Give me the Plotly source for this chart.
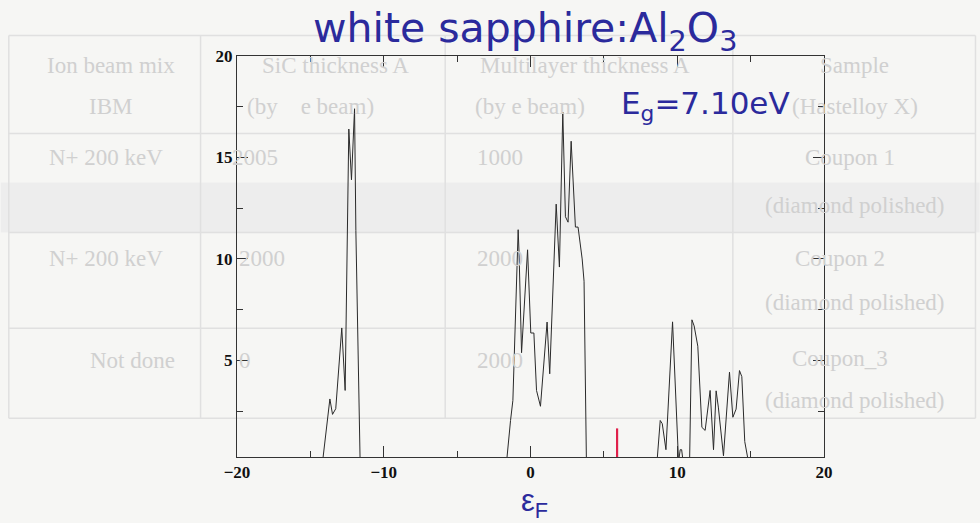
import plotly.graph_objects as go

# ---- data ----
energy = [-20, -14.6, -14.17, -13.67, -13.49, -13.27, -12.86, -12.63, -12.38, -12.2, -11.99, -11.9, -11.61, -11.2,
          -2.0, -1.63, -1.36, -1.2, -0.84, -0.78, -0.61, -0.2, 0.02, 0.23, 0.41, 0.68, 1.13, 1.31, 1.75, 1.97,
          2.2, 2.38, 2.56, 2.77, 3.06, 3.24, 3.52, 3.65, 3.81, 4.2,
          8.3, 8.62, 8.84, 8.98, 9.23, 9.68, 10.09, 10.2, 10.3, 10.4, 10.84, 11.0, 11.15, 11.4, 11.68, 11.9,
          12.24, 12.47, 12.65, 12.8, 13.15, 13.56, 13.79, 14.01, 14.24, 14.4, 14.6, 14.85, 15.2, 20]
dos = [0, 0, 0, 3.1, 2.34, 2.62, 6.6, 3.52, 16.4, 13.9, 17.4, 11.4, 0, 0,
       0, 0, 2.04, 3.03, 11.44, 10.3, 5.38, 10.45, 6.35, 6.35, 3.52, 2.74, 6.89, 4.34, 12.7, 9.6,
       17.23, 12.08, 11.81, 15.8, 11.57, 11.57, 10.0, 8.9, 0, 0,
       0, 0, 2.04, 1.88, 0.6, 6.9, 0, 0.6, 0.6, 0, 0, 7.0, 6.7, 5.7, 1.7, 1.55,
       3.52, 0.6, 3.5, 2.7, 0.3, 4.42, 2.2, 2.6, 4.5, 4.2, 1.0, 0, 0, 0]
fermi_x = [5.9, 5.9]
fermi_y = [0, 1.65]

x_ticks = [-20, -10, 0, 10, 20]
y_ticks = [5, 10, 15, 20]

# ghost table seen through the page (background)
ghost_text = [
    ("Ion beam mix", 110, 65), ("SiC thickness A", 335, 65), ("Multilayer thickness A", 585, 65), ("Sample", 855, 65),
    ("IBM", 110, 106), ("(by    e beam)", 310, 106), ("(by e beam)", 530, 106), ("(Hastelloy X)", 855, 106),
    ("N+ 200 keV", 105, 157), ("2005", 255, 157), ("1000", 500, 157), ("Coupon 1", 850, 157),
    ("(diamond polished)", 855, 205),
    ("N+ 200 keV", 105, 258), ("2000", 262, 258), ("2000", 500, 258), ("Coupon 2", 840, 258),
    ("(diamond polished)", 855, 302),
    ("Not done", 132, 360), ("0", 245, 360), ("2000", 500, 360), ("Coupon_3", 840, 358),
    ("(diamond polished)", 855, 400),
]
ghost_vlines = [8, 200, 445, 733, 976]
ghost_hlines = [35, 133, 232, 328, 418]

# ---- geometry ----
W, H = 980, 523
L, R, T, B = 236.5, 824.3, 55.5, 456.7
BLUE = "#2b2a9c"

def px2paper(px, py):
    return (px - L) / (R - L), (B - py) / (B - T)

fig = go.Figure()
fig.add_trace(go.Scatter(x=energy, y=dos, mode="lines",
                         line=dict(color="#2a2a2a", width=1), showlegend=False, hoverinfo="skip"))
fig.add_trace(go.Scatter(x=fermi_x, y=fermi_y, mode="lines",
                         line=dict(color="#e0204a", width=2.2), showlegend=False, hoverinfo="skip"))

shapes = []
x0, y0 = px2paper(0, 232)
x1, y1 = px2paper(980, 182)
shapes.append(dict(type="rect", xref="paper", yref="paper", x0=x0, x1=x1, y0=y0, y1=y1,
                   fillcolor="#ededed", line=dict(width=0), layer="below"))
for vx in ghost_vlines:
    a, b0 = px2paper(vx, ghost_hlines[0])
    _, b1 = px2paper(vx, ghost_hlines[-1])
    shapes.append(dict(type="line", xref="paper", yref="paper", x0=a, x1=a, y0=b0, y1=b1,
                       line=dict(color="#e0e0e0", width=1.5), layer="below"))
for hy in ghost_hlines:
    a0, b = px2paper(ghost_vlines[0], hy)
    a1, _ = px2paper(ghost_vlines[-1], hy)
    shapes.append(dict(type="line", xref="paper", yref="paper", x0=a0, x1=a1, y0=b, y1=b,
                       line=dict(color="#e0e0e0", width=1.5), layer="below"))

annotations = []
for txt, gx, gy in ghost_text:
    ax, ay = px2paper(gx, gy)
    annotations.append(dict(text=txt, x=ax, y=ay, xref="paper", yref="paper", showarrow=False,
                            xanchor="center", yanchor="middle",
                            font=dict(family="Liberation Serif", size=23, color="#d0d0d0")))

tx, ty = px2paper(525, 30)
annotations.append(dict(text="white sapphire:Al<sub>2</sub>O<sub>3</sub>", x=tx, y=ty, xref="paper", yref="paper",
                        showarrow=False, xanchor="center", yanchor="middle",
                        font=dict(family="DejaVu Sans", size=41, color=BLUE)))
ex, ey = px2paper(706, 105)
annotations.append(dict(text="E<sub>g</sub>=7.10eV", x=ex, y=ey, xref="paper", yref="paper",
                        showarrow=False, xanchor="center", yanchor="middle",
                        font=dict(family="DejaVu Sans", size=31, color=BLUE)))
fx, fy = px2paper(534, 503)
annotations.append(dict(text="ε<sub>F</sub>", x=fx, y=fy, xref="paper", yref="paper",
                        showarrow=False, xanchor="center", yanchor="middle",
                        font=dict(family="Liberation Sans", size=31, color=BLUE)))

tickfont = dict(family="Liberation Serif", size=17, color="#111111", weight="bold")
fig.update_layout(
    width=W, height=H,
    margin=dict(l=L, r=W - R, t=T, b=H - B, pad=0),
    paper_bgcolor="#f6f6f4", plot_bgcolor="rgba(0,0,0,0)",
    shapes=shapes, annotations=annotations,
    xaxis=dict(range=[-20, 20], tickvals=x_ticks, ticks="inside", ticklen=11, tickwidth=1,
               tickcolor="#333", showline=True, linecolor="#333", linewidth=1, mirror="ticks",
               showgrid=False, zeroline=False, tickfont=tickfont,
               minor=dict(ticks="inside", dtick=5, tick0=0, ticklen=6, tickcolor="#333", showgrid=False)),
    yaxis=dict(range=[0.24, 20], tickvals=y_ticks, ticks="inside", ticklen=11, tickwidth=1,
               tickcolor="#333", showline=True, linecolor="#333", linewidth=1, mirror="ticks",
               showgrid=False, zeroline=False, tickfont=tickfont,
               minor=dict(ticks="inside", dtick=2.5, tick0=0, ticklen=6, tickcolor="#333", showgrid=False)),
)

fig.write_html("out.html", config={"displayModeBar": False},
               post_script="document.body.style.margin='0';document.body.style.overflow='hidden';")
